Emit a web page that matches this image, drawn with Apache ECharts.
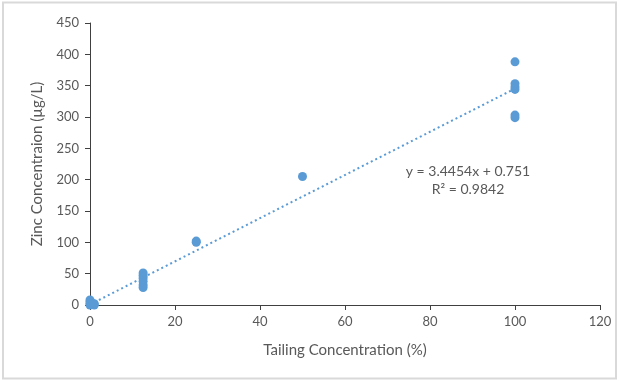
<!DOCTYPE html>
<html>
<head>
<meta charset="utf-8">
<script src="https://cdn.jsdelivr.net/npm/echarts@6/dist/echarts.min.js"></script>
<style>
  html, body { margin: 0; padding: 0; background: #fff; }
  #chart { width: 619px; height: 381px; }
</style>
</head>
<body>
<div id="chart"></div>
<script>
// Tailing concentration (%) of each sample
const tailingPct = [0, 0, 0, 0, 0.5, 0.5, 1, 1,
                    12.5, 12.5, 12.5, 12.5, 12.5, 12.5,
                    25, 25, 50,
                    100, 100, 100, 100, 100, 100];
// Measured zinc concentration (µg/L)
const zincUgL = [8, 5, 2, 0, 3, 1, 2, 0,
                 51, 47, 43, 38, 32, 28,
                 100, 102, 205,
                 388, 353, 348, 344, 303, 299];
// Linear fit reported on the chart
const fitSlope = 3.4454;
const fitIntercept = 0.751;
const fitR2 = 0.9842;
const fitRange = [0, 100];

const xTicks = { min: 0, max: 120, interval: 20 };
const yTicks = { min: 0, max: 450, interval: 50 };

const points = tailingPct.map((x, i) => [x, zincUgL[i]]);
const fitLine = fitRange.map(x => [x, fitSlope * x + fitIntercept]);

const FONT = 'Lato, "Open Sans", sans-serif';
const TEXT = '#595959';
const AXIS = '#404040';

const chart = echarts.init(document.getElementById('chart'), null, { renderer: 'canvas' });
chart.setOption({
  backgroundColor: '#fff',
  animation: false,
  graphic: [{
    type: 'rect',
    shape: { x: 3, y: 2.5, width: 613, height: 376 },
    style: { fill: 'none', stroke: '#d9d9d9', lineWidth: 2 },
    silent: true
  }, {
    type: 'text',
    x: 468,
    y: 162,
    style: {
      text: 'y = ' + fitSlope + 'x + ' + fitIntercept + '\nR² = ' + fitR2,
      fill: TEXT,
      font: '14px ' + FONT,
      align: 'center',
      verticalAlign: 'top',
      lineHeight: 18
    }
  }],
  grid: { left: 90, right: 19, top: 23, bottom: 76 },
  xAxis: {
    type: 'value',
    min: xTicks.min, max: xTicks.max, interval: xTicks.interval,
    name: 'Tailing Concentration (%)',
    nameLocation: 'middle',
    nameGap: 38,
    nameTextStyle: { color: TEXT, fontSize: 15, fontFamily: FONT },
    axisLine: { show: true, onZero: false, lineStyle: { color: AXIS, width: 1 } },
    axisTick: { show: true, length: 5, lineStyle: { color: AXIS } },
    axisLabel: { color: TEXT, fontSize: 13, fontFamily: FONT, margin: 10 },
    splitLine: { show: false }
  },
  yAxis: {
    type: 'value',
    min: yTicks.min, max: yTicks.max, interval: yTicks.interval,
    name: 'Zinc Concentraion (µg/L)',
    nameLocation: 'middle',
    nameGap: 45,
    nameRotate: 90,
    nameTextStyle: { color: TEXT, fontSize: 15, fontFamily: FONT },
    axisLine: { show: true, lineStyle: { color: AXIS, width: 1 } },
    axisTick: { show: true, length: 5, lineStyle: { color: AXIS } },
    axisLabel: { color: TEXT, fontSize: 13, fontFamily: FONT, margin: 11 },
    splitLine: { show: false }
  },
  series: [{
    type: 'line',
    data: fitLine,
    showSymbol: false,
    symbol: 'none',
    lineStyle: { color: '#5b9bd5', width: 2, type: [2, 3] },
    z: 2
  }, {
    type: 'scatter',
    data: points,
    symbol: 'circle',
    symbolSize: 9,
    itemStyle: { color: '#5b9bd5', opacity: 1 },
    z: 3
  }]
});
</script>
</body>
</html>
